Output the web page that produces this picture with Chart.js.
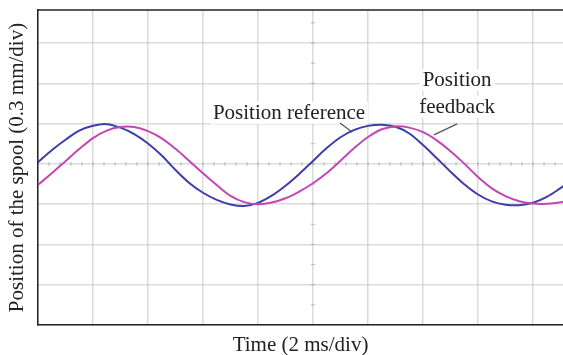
<!DOCTYPE html>
<html lang="en">
  <head>
    <meta charset="utf-8" />
    <title>Spool position</title>
    <script src="https://cdn.jsdelivr.net/npm/chart.js/dist/chart.umd.min.js"></script>
    <style>
      * {
        margin: 0;
        padding: 0;
      }
      body {
        background: #fff;
        overflow: hidden;
      }
    </style>
  </head>
  <body>
    <canvas id="myChart" width="563" height="355"></canvas>

    <script>
      // time in ms (2 ms per division)
      const timeMs = [
        0, 0.5, 1, 1.5, 2, 2.5, 3, 3.5, 4, 4.5, 5, 5.5, 6, 6.5, 7, 7.5, 8, 8.5,
        9, 9.5, 10, 10.5, 11, 11.5, 12, 12.5, 13, 13.5, 14, 14.5, 15, 15.5, 16,
        16.5, 17, 17.5, 18, 18.5, 19, 19.1,
      ];
      // spool position in mm (0.3 mm per division)
      const positionReference = [
        0.012, 0.102, 0.18, 0.248, 0.284, 0.296, 0.27, 0.222, 0.152, 0.062,
        -0.045, -0.142, -0.215, -0.268, -0.302, -0.314, -0.29, -0.237, -0.163,
        -0.075, 0.022, 0.118, 0.198, 0.253, 0.283, 0.292, 0.276, 0.226, 0.14,
        0.042, -0.058, -0.152, -0.228, -0.279, -0.304, -0.308, -0.29, -0.246,
        -0.181, -0.166,
      ];
      const positionFeedback = [
        -0.156, -0.07, 0.02, 0.11, 0.192, 0.248, 0.274, 0.274, 0.244, 0.19,
        0.112, 0.022, -0.07, -0.158, -0.238, -0.285, -0.3, -0.288, -0.256,
        -0.206, -0.144, -0.068, 0.024, 0.118, 0.2, 0.258, 0.279, 0.27, 0.236,
        0.175, 0.094, 0.002, -0.098, -0.182, -0.24, -0.278, -0.296, -0.297,
        -0.286, -0.282,
      ];
      const xTicks = [0, 2, 4, 6, 8, 10, 12, 14, 16, 18];
      const yTicks = [-1.2, -0.9, -0.6, -0.3, 0, 0.3, 0.6, 0.9];

      const serif = "'Liberation Serif', 'Times New Roman', serif";
      const gridColor = "rgba(200,200,200,0.65)";

      const data = {
        datasets: [
          {
            label: "Position feedback",
            data: timeMs.map((t, i) => ({ x: t, y: positionFeedback[i] })),
            borderColor: "#c247b5",
            borderWidth: 2,
            pointRadius: 0,
            tension: 0.35,
          },
          {
            label: "Position reference",
            data: timeMs.map((t, i) => ({ x: t, y: positionReference[i] })),
            borderColor: "#3d3ea9",
            borderWidth: 2,
            pointRadius: 0,
            tension: 0.35,
          },
        ],
      };

      // scope style extras: minor ticks on the centre lines, labels, top frame
      const scopeDecor = {
        id: "scopeDecor",
        beforeDatasetsDraw(chart) {
          const { ctx, scales } = chart;
          const x = scales.x;
          const y = scales.y;
          ctx.save();
          ctx.strokeStyle = "rgba(160,160,160,0.7)";
          ctx.lineWidth = 1;
          const y0 = y.getPixelForValue(0);
          for (let t = 0.4; t < x.max; t += 0.4) {
            const px = x.getPixelForValue(t);
            ctx.beginPath();
            ctx.moveTo(px, y0 - 2);
            ctx.lineTo(px, y0 + 2);
            ctx.stroke();
          }
          const x0 = x.getPixelForValue(10);
          for (let v = -1.05; v < y.max; v += 0.15) {
            const py = y.getPixelForValue(v);
            ctx.beginPath();
            ctx.moveTo(x0 - 2, py);
            ctx.lineTo(x0 + 2, py);
            ctx.stroke();
          }

          // labels on white boxes
          ctx.font = "21px " + serif;
          ctx.fillStyle = "#222";
          ctx.textBaseline = "alphabetic";
          const drawLabel = (text, px, py, align) => {
            ctx.textAlign = align;
            const w = ctx.measureText(text).width;
            const left = align === "center" ? px - w / 2 : px;
            ctx.save();
            ctx.fillStyle = "#fff";
            ctx.fillRect(left - 3, py - 17, w + 6, 22);
            ctx.restore();
            ctx.fillText(text, px, py);
          };
          drawLabel(
            "Position reference",
            x.getPixelForValue(6.36),
            y.getPixelForValue(0.335),
            "left"
          );
          drawLabel(
            "Position",
            x.getPixelForValue(15.24),
            y.getPixelForValue(0.581),
            "center"
          );
          drawLabel(
            "feedback",
            x.getPixelForValue(15.24),
            y.getPixelForValue(0.382),
            "center"
          );

          // leader lines
          ctx.strokeStyle = "#555";
          ctx.lineWidth = 1.2;
          ctx.beginPath();
          ctx.moveTo(x.getPixelForValue(10.98), y.getPixelForValue(0.305));
          ctx.lineTo(x.getPixelForValue(11.42), y.getPixelForValue(0.238));
          ctx.moveTo(x.getPixelForValue(15.24), y.getPixelForValue(0.298));
          ctx.lineTo(x.getPixelForValue(14.4), y.getPixelForValue(0.216));
          ctx.stroke();
          ctx.restore();
        },
        afterDraw(chart) {
          const { ctx, chartArea } = chart;
          ctx.save();
          ctx.strokeStyle = "#222";
          ctx.lineWidth = 1.5;
          ctx.beginPath();
          ctx.moveTo(chartArea.left, chartArea.top);
          ctx.lineTo(chartArea.right, chartArea.top);
          ctx.stroke();
          ctx.restore();
        },
      };

      const config = {
        type: "line",
        data,
        options: {
          responsive: false,
          animation: false,
          layout: { padding: { top: 10, right: 0, left: 0, bottom: 0 } },
          plugins: {
            legend: { display: false },
            tooltip: { enabled: false },
          },
          scales: {
            x: {
              type: "linear",
              min: 0,
              max: 19.09,
              afterBuildTicks: (scale) => {
                scale.ticks = xTicks.map((v) => ({ value: v }));
              },
              afterFit: (scale) => {
                scale.height = 30;
              },
              ticks: { display: false },
              grid: { color: gridColor, lineWidth: 1.5, drawTicks: false },
              border: { color: "#222", width: 1.5 },
              title: {
                display: true,
                text: "Time (2 ms/div)",
                color: "#222",
                font: { family: serif, size: 21, lineHeight: 1 },
                padding: { top: 0, bottom: -1 },
              },
            },
            y: {
              min: -1.2,
              max: 1.146,
              afterBuildTicks: (scale) => {
                scale.ticks = yTicks.map((v) => ({ value: v }));
              },
              afterFit: (scale) => {
                scale.width = 38;
              },
              ticks: { display: false },
              grid: { color: gridColor, lineWidth: 1.5, drawTicks: false },
              border: { color: "#222", width: 1.5 },
              title: {
                display: true,
                text: "Position of the spool (0.3 mm/div)",
                color: "#222",
                font: { family: serif, size: 21, lineHeight: 1.2 },
                padding: { top: 5, bottom: 0 },
              },
            },
          },
        },
        plugins: [scopeDecor],
      };

      const myChart = new Chart(document.getElementById("myChart"), config);
    </script>
  </body>
</html>
